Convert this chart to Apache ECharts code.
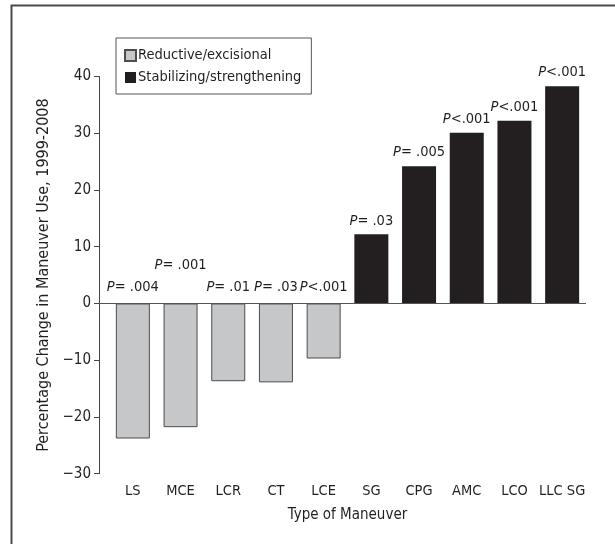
<!DOCTYPE html>
<html>
<head>
<meta charset="utf-8">
<script src="https://cdn.jsdelivr.net/npm/echarts@6/dist/echarts.min.js"></script>
<style>
  html, body { margin: 0; padding: 0; background: #fff; }
  #chart { width: 615px; height: 544px; }
</style>
</head>
<body>
<div id="chart"></div>
<script>
const categories = ['LS', 'MCE', 'LCR', 'CT', 'LCE', 'SG', 'CPG', 'AMC', 'LCO', 'LLC SG']
// percentage change 1999-2008
const reductive = [-23.8, -21.8, -13.7, -13.9, -9.7]
const stabilizing = [12.2, 24.2, 30.1, 32.2, 38.3]
const pValues = ['= .004', '= .001', '= .01', '= .03', '<.001', '= .03', '= .005', '<.001', '<.001', '<.001']
const yTicks = { min: -30, max: 40, interval: 10 }

const FONT = "'Liberation Sans Narrow', 'DejaVu Sans Condensed', 'Roboto', sans-serif"
const INK = '#231f20'
const GREY = '#c6c7c9'

// pad each group to the full category list
const reductiveData = categories.map((c, i) => i < reductive.length ? reductive[i] : '-')
const stabilizingData = categories.map((c, i) => {
  const j = i - reductive.length
  return j >= 0 ? stabilizing[j] : '-'
})

const pLabel = {
  show: true,
  position: 'top',
  formatter: p => '{i|P}{n|' + pValues[p.dataIndex] + '}',
  rich: {
    i: { fontFamily: FONT, fontSize: 14.5, fontStyle: 'italic', color: INK },
    n: { fontFamily: FONT, fontSize: 14.5, color: INK },
  },
}

const chart = echarts.init(document.getElementById('chart'))
chart.setOption({
  animation: false,
  textStyle: { fontFamily: FONT, color: INK },
  graphic: [{
    type: 'polyline',
    shape: { points: [[11.5, 544], [11.5, 5.5], [615, 5.5]] },
    style: { stroke: '#4a4a4a', lineWidth: 2, fill: null },
  }],
  legend: {
    orient: 'vertical',
    left: 116, top: 38,
    padding: [10, 10, 9, 8],
    itemWidth: 11, itemHeight: 11, itemGap: 7,
    borderColor: '#555', borderWidth: 1,
    icon: 'rect',
    textStyle: { fontFamily: FONT, fontSize: 14.5, color: INK, padding: [0, 0, 0, -3] },
    data: ['Reductive/excisional', 'Stabilizing/strengthening'],
  },
  grid: { left: 109, right: 29, top: 76.5, bottom: 70.3 },
  xAxis: {
    type: 'category',
    data: categories,
    axisLine: { show: false, onZero: false },
    axisTick: { show: false },
    axisLabel: { interval: 0, margin: 10, fontSize: 14.5, color: INK, fontFamily: FONT },
    name: 'Type of Maneuver',
    nameLocation: 'middle',
    nameGap: 34,
    nameTextStyle: { fontSize: 15, color: INK, fontFamily: FONT },
  },
  yAxis: {
    type: 'value',
    min: yTicks.min, max: yTicks.max, interval: yTicks.interval,
    offset: 10,
    axisLine: { show: true, lineStyle: { color: '#444', width: 1 } },
    axisTick: { show: true, length: 5, lineStyle: { color: '#444' } },
    splitLine: { show: false },
    axisLabel: {
      margin: 8, fontSize: 15, color: INK, fontFamily: FONT,
      formatter: v => String(v).replace('-', '\u2212'),
    },
    name: 'Percentage Change in Maneuver Use, 1999-2008',
    nameLocation: 'middle',
    nameGap: 44,
    nameTextStyle: { fontSize: 16, color: INK, fontFamily: FONT },
  },
  series: [
    {
      name: 'Reductive/excisional',
      type: 'bar',
      data: reductiveData.map((v, i) => i === 1
        ? { value: v, label: { distance: 31 } }
        : v),
      barWidth: 34,
      barGap: '-100%',
      itemStyle: { color: GREY, borderColor: '#4d4d4d', borderWidth: 1 },
      label: Object.assign({ distance: 9 }, pLabel),
      markLine: {
        silent: true,
        symbol: ['none', 'none'],
        label: { show: false },
        lineStyle: { color: '#555', width: 1.2, type: 'solid' },
        data: [[
          { coord: [categories[0], 0], x: 99 },
          { coord: [categories[categories.length - 1], 0], x: 586 },
        ]],
      },
    },
    {
      name: 'Stabilizing/strengthening',
      type: 'bar',
      data: stabilizingData,
      barWidth: 34,
      itemStyle: { color: INK },
      label: Object.assign({ distance: 6 }, pLabel),
    },
  ],
})
</script>
</body>
</html>
